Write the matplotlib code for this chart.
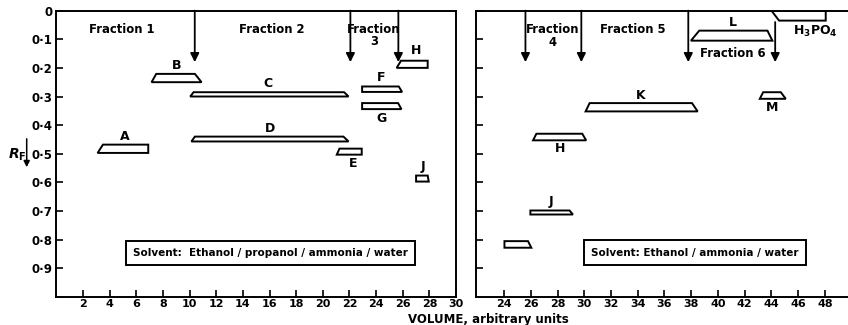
import matplotlib
matplotlib.use("Agg")
import matplotlib.pyplot as plt
from matplotlib.patches import Polygon, FancyArrowPatch

plt.rcParams['font.family'] = ['DejaVu Sans']
plt.rcParams['font.weight'] = 'bold'
plt.rcParams['mathtext.default'] = 'regular'

# ---- left panel: ethanol / propanol / ammonia / water ----
left_names = ['A', 'B', 'C', 'D', 'E', 'F', 'G', 'H', 'J']
left_top_x0 = [3.5, 7.5, 10.3, 10.4, 21.25, 22.95, 22.95, 25.87, 27.0]
left_top_x1 = [6.9, 10.4, 21.6, 21.55, 22.92, 25.7, 25.65, 27.87, 27.87]
left_bot_x0 = [3.1, 7.15, 10.05, 10.14, 21.05, 22.95, 22.95, 25.54, 27.0]
left_bot_x1 = [6.9, 10.9, 21.93, 21.93, 22.92, 25.95, 25.9, 27.87, 27.95]
left_rf_top = [0.468, 0.221, 0.285, 0.44, 0.482, 0.265, 0.323, 0.175, 0.576]
left_rf_bot = [0.497, 0.25, 0.30, 0.457, 0.503, 0.284, 0.344, 0.20, 0.597]
left_label_xy = [(5.14, 0.44), (9.0, 0.19), (15.9, 0.255), (16.06, 0.41),
                 (22.25, 0.535), (24.37, 0.235), (24.37, 0.378), (27.0, 0.14),
                 (27.5, 0.545)]
left_cuts = [10.39, 22.07, 25.67]

# ---- right panel: ethanol / ammonia / water ----
right_names = ['H', 'J', '', 'K', 'L', 'M', 'H$_3$PO$_4$']
right_top_x0 = [26.42, 25.97, 24.03, 30.4, 38.6, 43.38, 44.0]
right_top_x1 = [29.85, 28.9, 25.79, 38.06, 43.7, 44.7, 48.06]
right_bot_x0 = [26.17, 25.97, 24.03, 30.1, 37.98, 43.13, 44.57]
right_bot_x1 = [30.14, 29.15, 26.04, 38.48, 44.07, 45.07, 48.06]
right_rf_top = [0.43, 0.698, 0.805, 0.323, 0.07, 0.285, 0.0]
right_rf_bot = [0.453, 0.712, 0.828, 0.352, 0.105, 0.308, 0.035]
right_label_xy = [(28.16, 0.48), (27.5, 0.665), (25.0, 0.78), (34.25, 0.297),
                  (41.14, 0.042), (44.07, 0.338), (47.3, 0.072)]
right_cuts = [25.6, 29.78, 37.78, 44.28]
right_cut_start = [0.0, 0.0, 0.0, 0.04]

rf_ticks = [0, 0.1, 0.2, 0.3, 0.4, 0.5, 0.6, 0.7, 0.8, 0.9]
rf_labels = ['0', '0·1', '0·2', '0·3', '0·4', '0·5', '0·6', '0·7', '0·8', '0·9']
left_xticks = list(range(2, 31, 2))
right_xticks = list(range(24, 49, 2))

fig = plt.figure(figsize=(8.48, 3.25), dpi=100)
ax1 = fig.add_axes([0.0664, 0.0862, 0.4714, 0.8812])
ax2 = fig.add_axes([0.5613, 0.0862, 0.4375, 0.8812])


def draw_bands(ax, tx0, tx1, bx0, bx1, yt, yb):
    for a, b, c, d, t, u in zip(tx0, tx1, bx0, bx1, yt, yb):
        ax.add_patch(Polygon([(a, t), (b, t), (d, u), (c, u)], closed=True,
                             fill=False, ec='black', lw=1.4, joinstyle='miter'))


def style_axes(ax, xlim, xticks):
    ax.set_xlim(*xlim)
    ax.set_ylim(1.0, 0.0)
    ax.set_xticks(xticks)
    ax.set_xticklabels([str(v) for v in xticks], fontsize=8, fontweight='bold')
    ax.set_yticks(rf_ticks)
    ax.tick_params(direction='in', length=5, width=1.2)
    ax.tick_params(axis='x', pad=1.5)
    ax.tick_params(axis='y', pad=3)
    for s in ax.spines.values():
        s.set_linewidth(1.4)


def draw_cuts(ax, xs, starts):
    for x, y0 in zip(xs, starts):
        ax.annotate('', xy=(x, 0.18), xytext=(x, y0),
                    arrowprops=dict(arrowstyle='-|>', color='black', lw=1.3,
                                    mutation_scale=13, shrinkA=0, shrinkB=0))


draw_bands(ax1, left_top_x0, left_top_x1, left_bot_x0, left_bot_x1,
           left_rf_top, left_rf_bot)
draw_bands(ax2, right_top_x0, right_top_x1, right_bot_x0, right_bot_x1,
           right_rf_top, right_rf_bot)

for name, (x, y) in zip(left_names, left_label_xy):
    ax1.text(x, y, name, ha='center', va='center', fontsize=9, fontweight='bold')
for name, (x, y) in zip(right_names, right_label_xy):
    ax2.text(x, y, name, ha='center', va='center', fontsize=9, fontweight='bold')

draw_cuts(ax1, left_cuts, [0.0] * len(left_cuts))
draw_cuts(ax2, right_cuts, right_cut_start)

# fraction labels
fs = 8.4
ax1.text(4.9, 0.067, 'Fraction 1', ha='center', va='center', fontsize=fs)
ax1.text(16.2, 0.067, 'Fraction 2', ha='center', va='center', fontsize=fs)
ax1.text(23.85, 0.067, 'Fraction', ha='center', va='center', fontsize=fs)
ax1.text(23.85, 0.107, '3', ha='center', va='center', fontsize=fs)
ax2.text(27.6, 0.067, 'Fraction', ha='center', va='center', fontsize=fs)
ax2.text(27.6, 0.113, '4', ha='center', va='center', fontsize=fs)
ax2.text(33.6, 0.067, 'Fraction 5', ha='center', va='center', fontsize=fs)
ax2.text(41.13, 0.15, 'Fraction 6', ha='center', va='center', fontsize=fs)

# solvent boxes
box = dict(boxstyle='square,pad=0.7', fc='white', ec='black', lw=1.4)
ax1.text(16.07, 0.847, 'Solvent:  Ethanol / propanol / ammonia / water',
         ha='center', va='center', fontsize=7.5, bbox=box)
ax2.text(38.29, 0.845, 'Solvent: Ethanol / ammonia / water',
         ha='center', va='center', fontsize=7.5, bbox=box)

style_axes(ax1, (0, 30), left_xticks)
ax1.set_yticklabels(rf_labels, fontsize=8.5, fontweight='bold')
style_axes(ax2, (21.9, 49.65), right_xticks)
ax2.set_yticklabels([])
ax2.spines['right'].set_visible(False)

# R_F axis label with downward arrow
fig.text(0.021, 1 - 155 / 325, r'$R_{\rm F}$', ha='center', va='center',
         fontsize=10, style='italic')
fig.patches.append(FancyArrowPatch(
    (26.7 / 848, 1 - 136 / 325), (26.7 / 848, 1 - 170 / 325),
    transform=fig.transFigure, arrowstyle='-|>', mutation_scale=9,
    color='black', lw=1.1))

fig.text(488 / 848, 1 - 319 / 325, 'VOLUME, arbitrary units', ha='center',
         va='center', fontsize=8.5)

fig.savefig('out.png', dpi=100)
